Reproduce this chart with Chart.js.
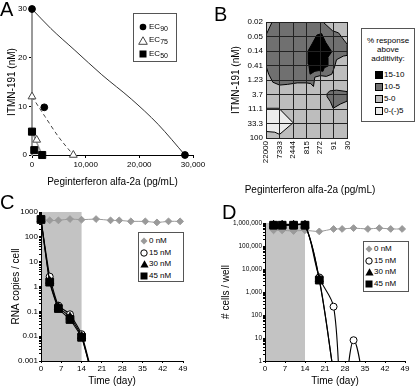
<!DOCTYPE html>
<html><head><meta charset="utf-8">
<script src="https://cdn.jsdelivr.net/npm/chart.js@4/dist/chart.umd.min.js"></script>
<style>
body{margin:0;background:#fff;width:416px;height:387px;overflow:hidden;position:relative;font-family:"Liberation Sans",Arial,sans-serif;color:#000;}
canvas{position:absolute;}
.letter{position:absolute;font-size:20px;line-height:20px;}
.lg{position:absolute;border:1px solid #555;background:#fff;box-sizing:border-box;}
.mk{position:absolute;}
.tx{position:absolute;font-size:8px;line-height:10px;white-space:nowrap;}
.tx sub{font-size:7px;vertical-align:-2px;line-height:0;}
.hd{position:absolute;left:0;right:0;text-align:center;font-size:8px;line-height:9px;}
.atitle{position:absolute;font-size:10px;line-height:12px;white-space:nowrap;transform:translateX(-50%);}
</style></head>
<body>
<canvas id="cA" width="208" height="195" style="left:0;top:0"></canvas>
<canvas id="cB" width="152" height="200" style="left:208px;top:0"></canvas>
<canvas id="cC" width="208" height="197" style="left:0;top:190px"></canvas>
<canvas id="cD" width="208" height="197" style="left:208px;top:190px"></canvas>
<div class="letter" style="left:0;top:-1px">A</div>
<div class="letter" style="left:214px;top:4px">B</div>
<div class="letter" style="left:0;top:192px">C</div>
<div class="letter" style="left:222px;top:202px">D</div>
<div class="atitle" style="left:310px;top:184px">Peginterferon alfa-2a (pg/mL)</div>
<div id="legends"></div>
<script>
// ---------- Panel A data (isobologram) ----------
const ec90X = [0, 2290, 28500];
const ec90Y = [30, 9.8, 0];
const ec75X = [0, 870, 7700];
const ec75Y = [12, 3.1, 0];
const ec50X = [0, 430, 1900];
const ec50Y = [4.8, 1.0, 0];
const add90X = [0, 3500, 8000, 13000, 18500, 23500, 28500];
const add90Y = [30, 26, 21.5, 16.5, 11.5, 6.3, 0];
const add75X = [0, 2420, 4900, 7700];
const add75Y = [12, 7.9, 3.8, 0];
const add50X = [0, 1900];
const add50Y = [4.8, 0];
const legendA = ['90', '75', '50'];

// ---------- Panel B data (contour, grid index units) ----------
const xLabelsB = ['22000', '7333', '2444', '815', '272', '91', '30'];
const yLabelsB = ['0.02', '0.05', '0.14', '0.41', '1.23', '3.7', '11.1', '33.3', '100'];
const blackPoly = [[3.75,0.9],[4.1,0.8],[4.4,1.4],[4.85,2.05],[4.55,2.45],[4.55,3.05],[4.3,3.15],[4.2,3.4],[3.9,3.35],[3.6,3.4],[3.25,3.6],[3.15,2.9],[3.1,2.0],[3.4,1.5],[3.75,0.9]];
const dark1Poly = [[0,0.9],[0.45,0],[4.2,0],[4.9,0.6],[5.35,0.75],[5.75,1.25],[6,1.55],[6,2.3],[5.7,2.35],[5.2,2.6],[5.05,3.1],[4.85,3.6],[4.45,3.75],[4.0,3.7],[3.6,3.8],[3.5,4.45],[3.3,4.25],[3.0,4.2],[2.3,4.2],[1.6,4.3],[1.0,4.35],[0.5,4.15],[0.2,3.6],[0,3.05],[0,0.9]];
const dark2Poly = [[4.5,4.95],[4.7,4.75],[5.2,4.7],[6,4.8],[6,5.45],[5.5,5.65],[4.95,5.95],[4.75,5.5],[4.5,5.15],[4.5,4.95]];
const lightPoly = [[0,5.95],[0.95,5.95],[2.0,6.95],[1.0,7.75],[0.65,7.6],[0,7.55],[0,5.95]];
const legendB = ['15-10', '10-5', '5-0', '0-(-)5'];
const colorsB = ['#000000', '#707070', '#bdbdbd', '#ececec'];

// ---------- Panel C data (RNA copies / cell) ----------
const daysC0 = [0, 3, 6, 10, 14, 19, 24, 27, 31, 36, 40, 44, 48];
const c0nM = [500, 460, 460, 520, 490, 520, 460, 460, 420, 420, 380, 420, 420];
const daysCT = [0, 3, 6, 10, 14, 17];
const c15nM = [500, 2.5, 0.17, 0.076, 0.012, 0.0006];
const c30nM = [500, 1.65, 0.15, 0.06, 0.01, 0.0005];
const c45nM = [500, 1.5, 0.13, 0.047, 0.009, 0.0005];

// ---------- Panel D data (cells / well) ----------
const daysD0 = [3, 6, 10, 14, 19, 24, 27, 31, 36, 40, 44, 48];
const d0nM = [480000, 480000, 450000, 480000, 430000, 550000, 550000, 600000, 550000, 600000, 550000, 550000];
const daysD15 = [3, 6, 10, 14, 19, 24, 27, 31, 36];
const d15nM = [850000, 850000, 850000, 850000, 4300, 230, 0.01, 8, 0.01];
const daysDT = [3, 6, 10, 14, 19, 24];
const d30nM = [820000, 820000, 820000, 820000, 3600, 0.3];
const d45nM = [800000, 800000, 800000, 800000, 3300, 0.3];
const legendCD = ['0 nM', '15 nM', '30 nM', '45 nM'];

// ---------- helpers ----------
Chart.defaults.font.family = '"Liberation Sans", Arial, sans-serif';
Chart.defaults.color = '#000';
const pts = (xs, ys) => xs.map((x, i) => ({x: x, y: ys[i]}));
const polyPts = (p) => p.map(q => ({x: q[0], y: q[1]}));
const fixW = w => s => { s.width = w; };
const fixH = h => s => { s.height = h; };
const areaBg = {
  id: 'areaBg',
  beforeDraw(chart, args, o) {
    if (!o || !o.color) return;
    const a = chart.chartArea, ctx = chart.ctx;
    let x0 = a.left, x1 = a.right;
    if (o.from != null) { x0 = chart.scales.x.getPixelForValue(o.from); x1 = chart.scales.x.getPixelForValue(o.to); }
    ctx.save(); ctx.fillStyle = o.color; ctx.fillRect(x0, a.top, x1 - x0, a.bottom - a.top); ctx.restore();
  }
};
const baseOpts = () => ({
  responsive: false, animation: false, devicePixelRatio: 1,
  plugins: {legend: {display: false}, tooltip: {enabled: false}}
});
const logTicks = (lo, hi) => { const t = []; for (let e = lo; e < hi; e++) { for (let m = 1; m < 10; m++) t.push({value: m * Math.pow(10, e)}); } t.push({value: Math.pow(10, hi)}); return t; };
const isPow = v => { const e = Math.log10(v); return Math.abs(e - Math.round(e)) < 1e-6 ? Math.round(e) : null; };

// ---------- Chart A ----------
(function(){
  const o = baseOpts();
  o.layout = {padding: {left: 2, top: 9, right: 15, bottom: 3}};
  o.scales = {
    x: {type: 'linear', min: 0, max: 30000, afterFit: fixH(37),
        ticks: {stepSize: 10000, font: {size: 8}, padding: 2, callback: v => Number(v).toLocaleString('en-US')},
        grid: {drawOnChartArea: false, tickLength: 3, color: '#000'}, border: {color: '#000'},
        title: {display: true, text: 'Peginterferon alfa-2a (pg/mL)', font: {size: 10}}},
    y: {type: 'linear', min: 0, max: 30, afterFit: fixW(30),
        ticks: {stepSize: 10, font: {size: 8}, padding: 2},
        grid: {drawOnChartArea: false, tickLength: 3, color: '#000'}, border: {color: '#9a9a9a', width: 2},
        title: {display: true, text: 'ITMN-191 (nM)', font: {size: 10}}}
  };
  new Chart(document.getElementById('cA'), {
    type: 'line',
    data: {datasets: [
      {data: pts(ec90X, ec90Y), showLine: false, pointStyle: 'circle', pointRadius: 3.4, backgroundColor: '#000', borderColor: '#000', clip: false},
      {data: pts(ec75X, ec75Y), showLine: false, pointStyle: 'triangle', pointRadius: 4.5, backgroundColor: '#fff', borderColor: '#444', pointBorderWidth: 1, clip: false},
      {data: pts(ec50X, ec50Y), showLine: false, pointStyle: 'rect', pointRadius: 5, backgroundColor: '#000', borderColor: '#000', clip: false},
      {data: pts(add90X, add90Y), pointRadius: 0, borderColor: '#333', borderWidth: 1, cubicInterpolationMode: 'monotone', fill: false},
      {data: pts(add75X, add75Y), pointRadius: 0, borderColor: '#444', borderWidth: 1, borderDash: [4, 3], cubicInterpolationMode: 'monotone', fill: false},
      {data: pts(add50X, add50Y), pointRadius: 0, borderColor: '#9a9a9a', borderWidth: 1.5, fill: false}
    ]},
    options: o
  });
})();

// ---------- Chart B ----------
(function(){
  const o = baseOpts();
  o.layout = {padding: {left: 18, top: 22, right: 6, bottom: 0}};
  o.plugins.areaBg = {color: colorsB[2]};
  o.scales = {
    x: {type: 'linear', min: 0, max: xLabelsB.length - 1, afterFit: fixH(62),
        afterBuildTicks: s => { s.ticks = xLabelsB.map((_, i) => ({value: i})); },
        ticks: {autoSkip: false, minRotation: 90, maxRotation: 90, font: {size: 8}, padding: 3, callback: v => xLabelsB[v]},
        grid: {color: '#222', drawTicks: false, z: 1}, border: {color: '#222', z: 1},
        title: {display: false}},
    y: {type: 'linear', min: 0, max: yLabelsB.length - 1, reverse: true, afterFit: fixW(40),
        afterBuildTicks: s => { s.ticks = yLabelsB.map((_, i) => ({value: i})); },
        ticks: {autoSkip: false, font: {size: 8}, padding: 3, callback: v => yLabelsB[v]},
        grid: {color: '#222', drawTicks: false, z: 1}, border: {color: '#222', z: 1},
        title: {display: true, text: 'ITMN-191 (nM)', font: {size: 10}}}
  };
  const poly = (p, c) => ({data: polyPts(p), fill: 'shape', backgroundColor: c, borderColor: '#000', borderWidth: 1, pointRadius: 0, tension: 0});
  new Chart(document.getElementById('cB'), {
    type: 'line',
    data: {datasets: [poly(blackPoly, colorsB[0]), poly(dark1Poly, colorsB[1]), poly(dark2Poly, colorsB[1]), poly(lightPoly, colorsB[3])]},
    options: o,
    plugins: [areaBg]
  });
})();

// ---------- Charts C & D ----------
function timeChart(id, cfg) {
  const o = baseOpts();
  o.layout = {padding: cfg.pad};
  o.plugins.areaBg = {color: '#c3c3c3', from: 0, to: 14};
  o.scales = {
    x: {type: 'linear', min: 0, max: 49, afterFit: fixH(26),
        ticks: {stepSize: 7, font: {size: 8}, padding: 1},
        grid: {drawOnChartArea: false, tickLength: 2, color: '#000'}, border: {color: '#000'},
        title: {display: true, text: 'Time (day)', font: {size: 10}, padding: {top: 1, bottom: 0}}},
    y: {type: 'logarithmic', min: cfg.ymin, max: cfg.ymax, afterFit: fixW(cfg.yw),
        afterBuildTicks: s => { s.ticks = logTicks(cfg.elo, cfg.ehi); },
        ticks: {autoSkip: false, font: {size: cfg.yfont}, padding: 1, callback: v => { const e = isPow(v); return e === null ? '' : cfg.fmt(e); }},
        grid: {drawOnChartArea: false, tickLength: 2, color: '#000'}, border: {color: '#000'},
        title: {display: true, text: cfg.ytitle, font: {size: 10}}}
  };
  const clipB = {left: 8, top: 8, right: 8, bottom: 0};
  const blk = (xs, ys, style, bg, tension, radii) => ({data: pts(xs, ys), borderColor: '#000', borderWidth: 1.1, pointStyle: style,
    pointRadius: radii, backgroundColor: bg, pointBorderColor: '#000', pointBorderWidth: 1, tension: tension, fill: false, clip: clipB});
  new Chart(document.getElementById(id), {
    type: 'line',
    data: {datasets: [
      blk(cfg.xt, cfg.s45, 'rect', '#000', cfg.tension, cfg.r45),
      blk(cfg.xt, cfg.s30, 'triangle', '#000', cfg.tension, cfg.r30),
      blk(cfg.x15, cfg.s15, 'circle', '#fff', cfg.tension, cfg.r15),
      {data: pts(cfg.x0, cfg.s0), borderColor: '#9a9a9a', borderWidth: 1, pointStyle: 'rectRot', pointRadius: 3.4,
       backgroundColor: '#9a9a9a', pointBorderColor: '#9a9a9a', tension: 0.3, fill: false, clip: clipB}
    ]},
    options: o,
    plugins: [areaBg]
  });
}
timeChart('cC', {
  pad: {left: 6, top: 22, right: 25, bottom: 0}, yw: 35, ymin: 0.001, ymax: 1000, elo: -3, ehi: 3, yfont: 8,
  fmt: e => e < 0 ? Math.pow(10, e).toFixed(-e) : String(Math.pow(10, e)), ytitle: 'RNA copies / cell',
  x0: daysC0, s0: c0nM, xt: daysCT, x15: daysCT, s15: c15nM, s30: c30nM, s45: c45nM, tension: 0.15,
  r45: [5.5, 5.5, 5.5, 5.5, 5.5, 0], r30: [4.6, 4.6, 4.6, 4.6, 4.6, 0], r15: [3.5, 3.5, 3.5, 3.5, 3.5, 0]
});
timeChart('cD', {
  pad: {left: 8, top: 33, right: 11, bottom: 0}, yw: 49, ymin: 1, ymax: 1000000, elo: 0, ehi: 6, yfont: 6.5,
  fmt: e => Math.pow(10, e).toLocaleString('en-US'), ytitle: '# cells / well',
  x0: daysD0, s0: d0nM, xt: daysDT, x15: daysD15, s15: d15nM, s30: d30nM, s45: d45nM, tension: 0.35,
  r45: [5.5, 5.5, 5.5, 5.5, 5.5, 0], r30: [4.6, 4.6, 4.6, 4.6, 4.6, 0], r15: [3.5, 3.5, 3.5, 3.5, 3.5, 3.5, 0, 3.5, 0]
});

// ---------- HTML legends ----------
const svgMk = {
  dot: '<svg width="8" height="8"><circle cx="4" cy="4" r="3.3" fill="#000"/></svg>',
  triOpen: '<svg width="10" height="9"><polygon points="5,0.8 9.3,8.3 0.7,8.3" fill="#fff" stroke="#444" stroke-width="1"/></svg>',
  sq: '<svg width="8" height="8"><rect x="0.5" y="0.5" width="7" height="7" fill="#000"/></svg>',
  diamond: '<svg width="8" height="8"><polygon points="4,0.5 7.5,4 4,7.5 0.5,4" fill="#9a9a9a"/></svg>',
  circOpen: '<svg width="8" height="8"><circle cx="4" cy="4" r="3.2" fill="#fff" stroke="#000" stroke-width="1"/></svg>',
  tri: '<svg width="9" height="8"><polygon points="4.5,0.3 8.6,7.6 0.4,7.6" fill="#000"/></svg>',
  sw: c => '<svg width="8" height="8"><rect x="0.5" y="0.5" width="7" height="7" fill="' + c + '" stroke="#000" stroke-width="1"/></svg>'
};
const L = document.getElementById('legends');
function box(left, top, w, h) { const d = document.createElement('div'); d.className = 'lg';
  d.style.left = left + 'px'; d.style.top = top + 'px'; d.style.width = w + 'px'; d.style.height = h + 'px'; L.appendChild(d); return d; }
function entry(b, mk, mx, tx, cy, html) {
  const m = document.createElement('div'); m.className = 'mk'; m.innerHTML = mk; b.appendChild(m);
  const s = m.firstChild; const w = +s.getAttribute('width'), h = +s.getAttribute('height');
  m.style.left = (mx - w / 2) + 'px'; m.style.top = (cy - h / 2) + 'px'; m.style.lineHeight = '0';
  const t = document.createElement('div'); t.className = 'tx'; t.innerHTML = html; t.style.left = tx + 'px'; t.style.top = (cy - 5) + 'px'; b.appendChild(t);
}
// A
(function(){ const b = box(133, 13, 44, 49); const mks = [svgMk.dot, svgMk.triOpen, svgMk.sq];
  legendA.forEach((s, i) => entry(b, mks[i], 9, 15, 13 + i * 13.3, 'EC<sub>' + s + '</sub>')); })();
// B
(function(){ const b = box(361, 28, 54, 94);
  ['% response', 'above', 'additivity:'].forEach((s, i) => { const h = document.createElement('div'); h.className = 'hd'; h.textContent = s; h.style.top = (7 + i * 9) + 'px'; b.appendChild(h); });
  legendB.forEach((s, i) => entry(b, svgMk.sw(colorsB[i]), 17, 22, 46 + i * 12, s)); })();
// C & D
const mkCD = [svgMk.diamond, svgMk.circOpen, svgMk.tri, svgMk.sq];
(function(){ const b = box(138, 232, 46, 50); legendCD.forEach((s, i) => entry(b, mkCD[i], 5, 10, 8 + i * 11.7, s)); })();
(function(){ const b = box(363, 241, 46, 51); legendCD.forEach((s, i) => entry(b, mkCD[i], 5, 10, 7 + i * 11.7, s)); })();
</script>
</body></html>
